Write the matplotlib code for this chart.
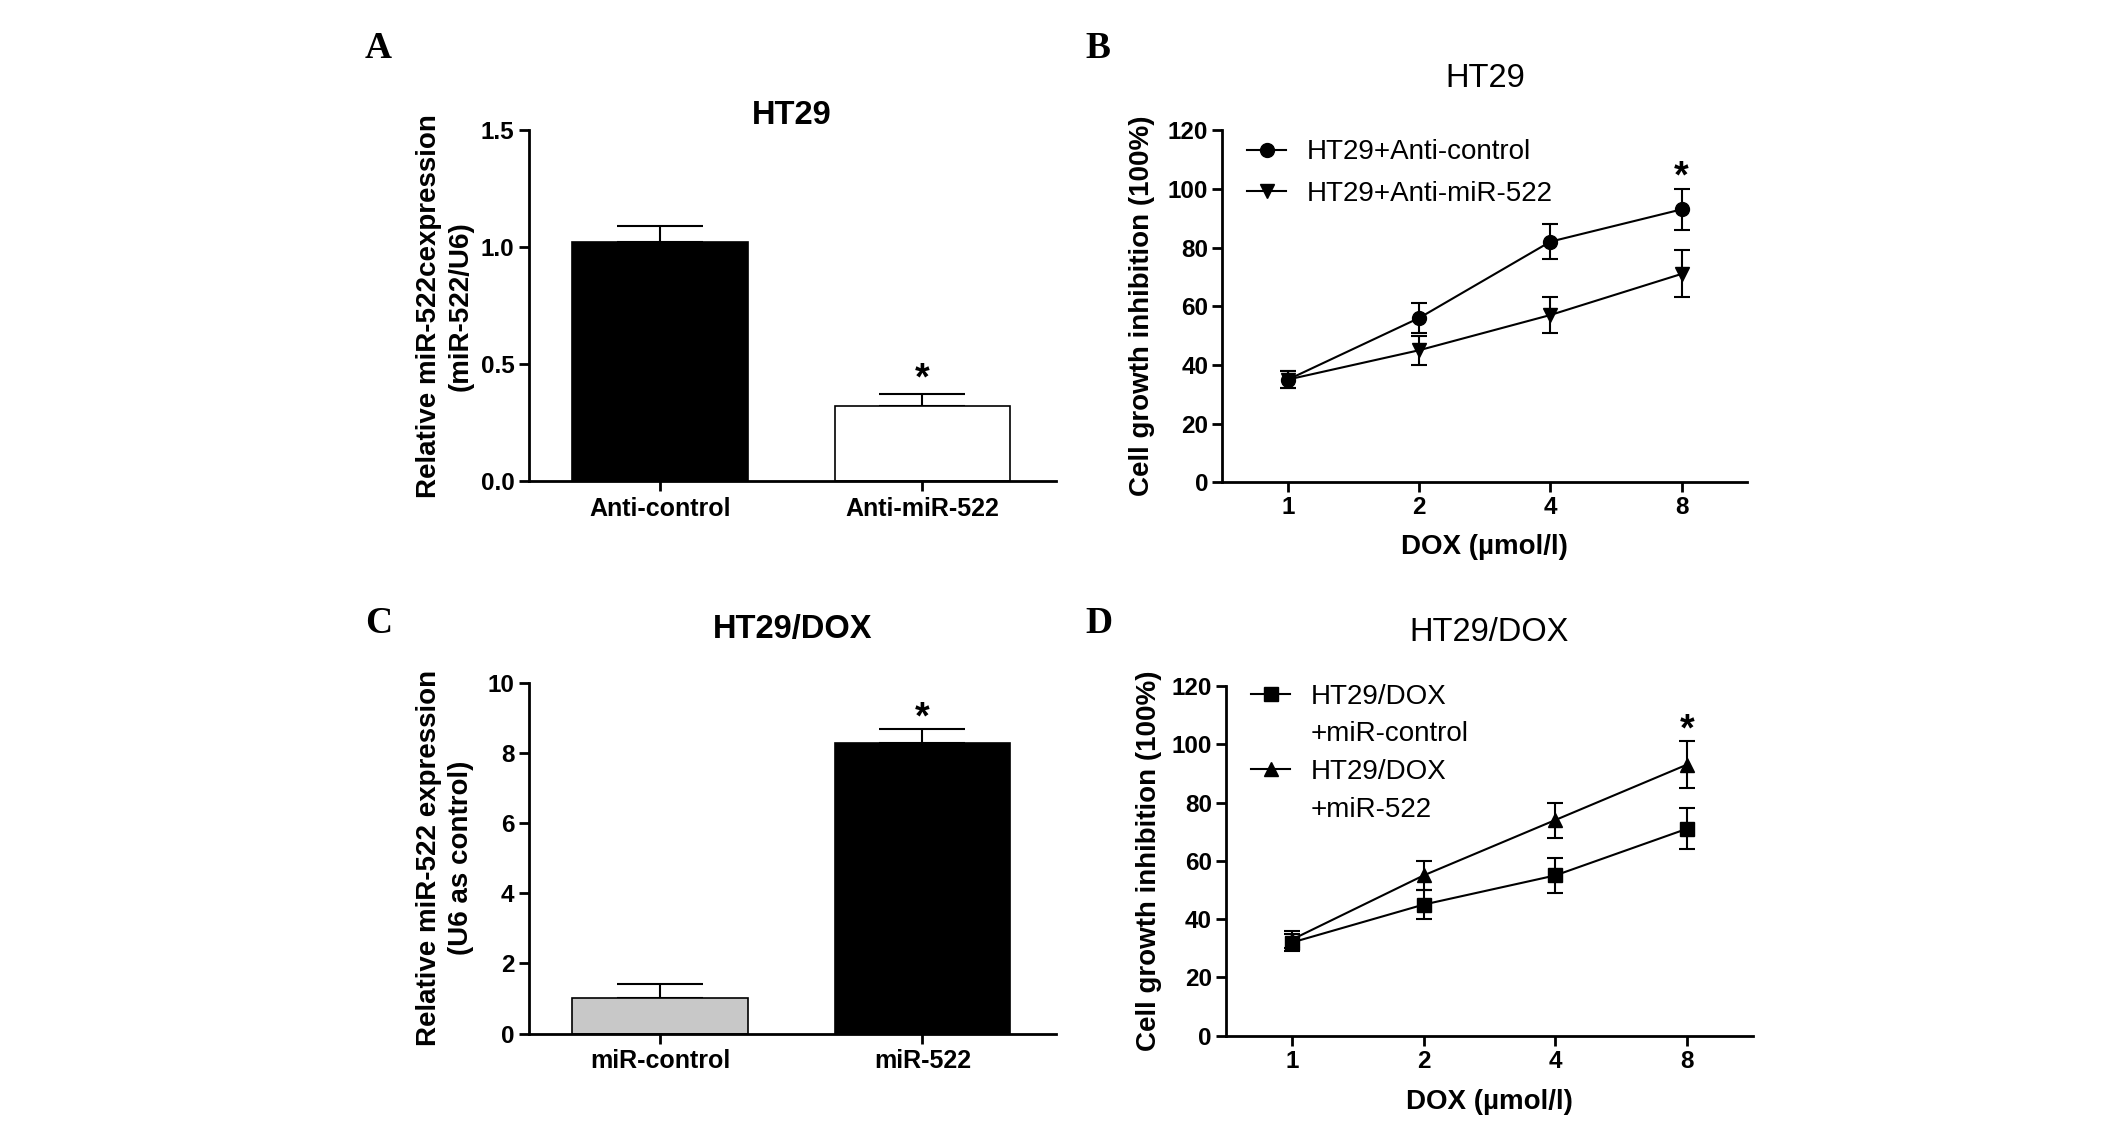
import numpy as np
import matplotlib
matplotlib.use('Agg')
import matplotlib.pyplot as plt
from matplotlib.lines import Line2D

plt.rcParams['font.family'] = ['Liberation Sans', 'DejaVu Sans']

# panel A - HT29 bars
a_groups = ['Anti-control', 'Anti-miR-522']
a_means = [1.02, 0.32]
a_err = [0.07, 0.053]

# panel B - HT29 dose response
dox_levels = ['1', '2', '4', '8']
b_ctrl = [35, 56, 82, 93]
b_ctrl_err = [3, 5, 6, 7]
b_anti = [35, 45, 57, 71]
b_anti_err = [3, 5, 6, 8]

# panel C - HT29/DOX bars
c_groups = ['miR-control', 'miR-522']
c_means = [1.0, 8.27]
c_err = [0.4, 0.42]

# panel D - HT29/DOX dose response
d_ctrl = [32, 45, 55, 71]
d_ctrl_err = [3, 5, 6, 7]
d_mir = [33, 55, 74, 93]
d_mir_err = [3, 5, 6, 8]

TICK_FS = 17.5
LABEL_FS = 20
TITLE_FS = 23.5
LW = 2.0


def style_axes(ax):
    for s in ['top', 'right']:
        ax.spines[s].set_visible(False)
    for s in ['left', 'bottom']:
        ax.spines[s].set_linewidth(LW)
    ax.tick_params(direction='out', length=7.2, width=LW, labelsize=TICK_FS, pad=3)
    for lab in ax.get_xticklabels() + ax.get_yticklabels():
        lab.set_fontweight('bold')


def bar_panel(ax, groups, means, err, colors, ylim, yticks, yticklabels, ylabel, title, title_y, star_off):
    x = np.arange(len(groups))
    ax.bar(x, means, width=0.67, color=colors, edgecolor='black', linewidth=1.2, zorder=2)
    ax.errorbar(x, means, yerr=[np.zeros(len(err)), err], fmt='none', ecolor='black',
                elinewidth=1.5, capsize=31, capthick=1.5, zorder=1)
    ax.set_xlim(-0.5, 1.507)
    ax.set_ylim(*ylim)
    ax.set_yticks(yticks)
    ax.set_yticklabels(yticklabels)
    ax.set_xticks(x)
    ax.set_xticklabels(groups)
    ax.set_ylabel(ylabel, fontsize=LABEL_FS, fontweight='bold', linespacing=1.3)
    ax.yaxis.set_label_coords(-0.159, 0.5)
    ax.yaxis.label.set_verticalalignment('center')
    ax.set_title(title, fontsize=TITLE_FS, fontweight='bold', pad=0, va='center', y=title_y)
    ax.annotate('*', xy=(1, means[1] + err[1]), xytext=(0, star_off), textcoords='offset points',
                ha='center', va='center', fontsize=27, fontweight='bold')
    style_axes(ax)
    ax.tick_params(axis='x', pad=4, labelsize=18)


def line_panel(ax, s1, e1, m1, l1, s2, e2, m2, l2, title, title_y, two_line):
    x = np.arange(len(dox_levels))
    kw = dict(color='black', markersize=10, linewidth=1.5, elinewidth=1.5, capsize=5.5, capthick=1.5)
    h1 = ax.errorbar(x, s1, yerr=e1, marker=m1, **kw)
    h2 = ax.errorbar(x, s2, yerr=e2, marker=m2, **kw)
    ax.set_xlim(-0.5, 3.5)
    ax.set_ylim(0, 120)
    ax.set_yticks(np.arange(0, 121, 20))
    ax.set_xticks(x)
    ax.set_xticklabels(dox_levels)
    ax.set_ylabel('Cell growth inhibition (100%)', fontsize=LABEL_FS, fontweight='bold')
    ax.yaxis.label.set_verticalalignment('center')
    ax.set_xlabel('DOX (\u00b5mol/l)', fontsize=LABEL_FS, fontweight='bold')
    ax.xaxis.label.set_verticalalignment('center')
    ax.set_title(title, fontsize=TITLE_FS, pad=0, va='center', y=title_y)
    ax.annotate('*', xy=(3, max(s1[3] + e1[3], s2[3] + e2[3])), xytext=(0, 8),
                textcoords='offset points', ha='center', va='center', fontsize=27, fontweight='bold')
    if two_line:
        blank = Line2D([], [], linestyle='none')
        handles = [h1[0], blank, h2[0], blank]
        labels = [l1[0], l1[1], l2[0], l2[1]]
        ax.legend(handles, labels, loc='upper left', bbox_to_anchor=(0.0, 1.078), frameon=False,
                  fontsize=20, handlelength=1.4, handletextpad=0.75, labelspacing=0.42)
    else:
        ax.legend([h1[0], h2[0]], [l1, l2], loc='upper left', bbox_to_anchor=(0.0, 1.045), frameon=False,
                  fontsize=20, handlelength=1.4, handletextpad=0.75, labelspacing=0.55)
    style_axes(ax)


fig = plt.figure(figsize=(21.26, 11.32), dpi=100)

axA = fig.add_axes([0.2487, 0.575, 0.2478, 0.310])
bar_panel(axA, a_groups, a_means, a_err, ['black', 'white'], (0, 1.5),
          [0, 0.5, 1.0, 1.5], ['0.0', '0.5', '1.0', '1.5'],
          'Relative miR-522cexpression\n(miR-522/U6)', 'HT29', 1.042, 10)

axB = fig.add_axes([0.575, 0.574, 0.2468, 0.311])
line_panel(axB, b_ctrl, b_ctrl_err, 'o', 'HT29+Anti-control',
           b_anti, b_anti_err, 'v', 'HT29+Anti-miR-522', 'HT29', 1.148, False)
axB.yaxis.set_label_coords(-0.153, 0.5)
axB.xaxis.set_label_coords(0.5, -0.183)

axC = fig.add_axes([0.2487, 0.087, 0.2478, 0.310])
bar_panel(axC, c_groups, c_means, c_err, ['#c8c8c8', 'black'], (0, 10),
          [0, 2, 4, 6, 8, 10], ['0', '2', '4', '6', '8', '10'],
          'Relative miR-522 expression\n(U6 as control)', 'HT29/DOX', 1.15, 7)

axD = fig.add_axes([0.5767, 0.085, 0.2477, 0.309])
line_panel(axD, d_ctrl, d_ctrl_err, 's', ('HT29/DOX', '+miR-control'),
           d_mir, d_mir_err, '^', ('HT29/DOX', '+miR-522'), 'HT29/DOX', 1.152, True)
axD.yaxis.set_label_coords(-0.147, 0.5)
axD.xaxis.set_label_coords(0.5, -0.189)

for lbl, x, y in [('A', 0.178, 0.957), ('B', 0.5166, 0.957), ('C', 0.178, 0.4496), ('D', 0.517, 0.4496)]:
    fig.text(x, y, lbl, fontsize=27, fontweight='bold', family='Liberation Serif', ha='center', va='center')

fig.savefig('out.png', dpi=100)
